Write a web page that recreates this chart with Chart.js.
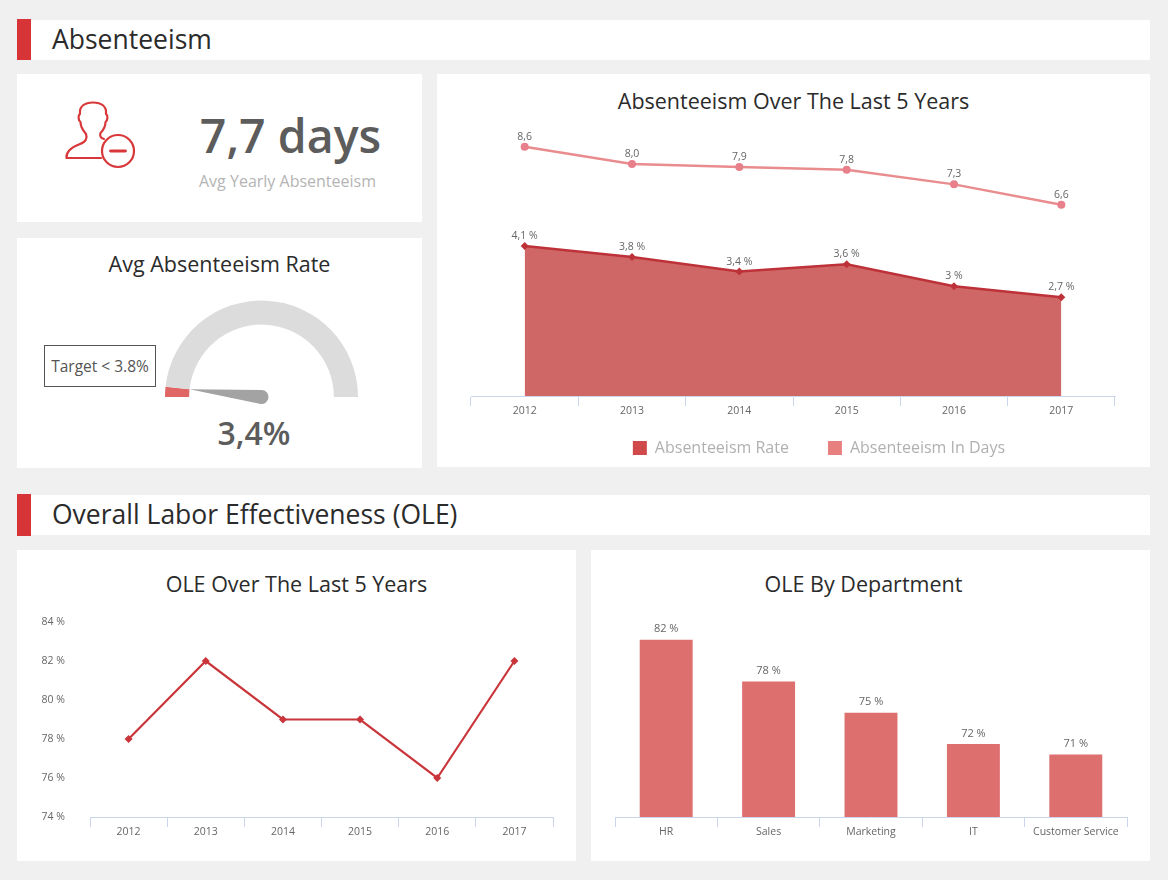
<!DOCTYPE html>
<html><head><meta charset="utf-8">
<script src="https://cdn.jsdelivr.net/npm/chart.js@4"></script>
<style>
html,body{margin:0;padding:0;width:1168px;height:880px;overflow:hidden;background:#f0f0f0;font-family:"Open Sans",sans-serif}
.a{position:absolute}
.card,.bar{position:absolute;background:#fff}
.red{position:absolute;background:#d63436}
.h{position:absolute;left:52px;font-size:26.500px;line-height:40px;color:#2b2b2b;white-space:nowrap}
.t{position:absolute;text-align:center;font-size:21.500px;line-height:26px;color:#2b2b2b;white-space:nowrap}
canvas{position:absolute;display:block}
</style></head><body>
<div class="bar" style="left:30px;top:20px;width:1120px;height:40px"></div>
<div class="red" style="left:17px;top:19px;width:14px;height:41px"></div>
<div class="h" style="top:19px">Absenteeism</div>
<div class="bar" style="left:30px;top:495px;width:1120px;height:40px"></div>
<div class="red" style="left:17px;top:494px;width:14px;height:42px"></div>
<div class="h" style="top:494px">Overall Labor Effectiveness (OLE)</div>

<div class="card" style="left:17px;top:74px;width:405px;height:148px"></div>
<div class="card" style="left:17px;top:238px;width:405px;height:230px"></div>
<div class="card" style="left:437px;top:74px;width:713px;height:393px"></div>
<div class="card" style="left:17px;top:550px;width:559px;height:311px"></div>
<div class="card" style="left:591px;top:550px;width:559px;height:311px"></div>

<svg class="a" style="left:0;top:0" width="1168" height="240" fill="none" stroke="#d8383a" stroke-width="2.2" stroke-linejoin="round" stroke-linecap="round">
<path d="M101 158 H66.500 C66 151 72 147 80 144 C86 142 87.500 138 86 134 C82.500 130 80.500 126 80.500 122 C78 120 78 115 80 114 C79 106 85 102.500 93 102.500 C101 102.500 107 106 106 114 C108 115 108 120 105.500 122 C105.500 126 103.500 130 100.500 133 C99.500 136 100.500 138 104 139"/>
<circle cx="118" cy="151" r="16"/>
<path d="M110.500 151 H125.500" stroke-width="2.800"/>
</svg>
<div class="a" style="left:150px;width:281px;top:104px;text-align:center;font-size:46.500px;line-height:62px;font-weight:600;color:#5c5c5c;white-space:nowrap">7,7 days</div>
<div class="a" style="left:150px;width:275px;top:171px;text-align:center;font-size:16px;line-height:20px;color:#b4b4b4;white-space:nowrap">Avg Yearly Absenteeism</div>

<div class="t" style="left:17px;width:405px;top:251px">Avg Absenteeism Rate</div>
<div class="a" style="left:44px;top:345px;width:110px;height:40px;border:1px solid #555;background:#fff;text-align:center;font-size:15.500px;line-height:40px;color:#555;white-space:nowrap">Target &lt; 3.8%</div>
<canvas id="gauge" style="left:161px;top:296px" width="201" height="111"></canvas>
<div class="a" style="left:154px;width:200px;top:411px;text-align:center;font-size:32px;line-height:44px;font-weight:600;color:#5c5c5c">3,4%</div>

<div class="t" style="left:437px;width:713px;top:88px">Absenteeism Over The Last 5 Years</div>
<canvas id="main" style="left:467px;top:110px" width="704" height="356"></canvas>

<div class="t" style="left:17px;width:559px;top:571px">OLE Over The Last 5 Years</div>
<canvas id="ole" style="left:17px;top:600px" width="559" height="260"></canvas>

<div class="t" style="left:591px;width:545px;top:571px">OLE By Department</div>
<canvas id="dept" style="left:591px;top:600px" width="559" height="260"></canvas>

<script>
const years = ['2012','2013','2014','2015','2016','2017'];
const absenceRate = [4.1,3.8,3.4,3.6,3.0,2.7];
const absenceDays = [8.6,8.0,7.9,7.8,7.3,6.6];
const oleYears = [78,82,79,79,76,82];
const departments = ['HR','Sales','Marketing','IT','Customer Service'];
const oleDept = [82,78,75,72,71];
const gaugeValue = [3.4];
const gaugeRest = [96.6];
const oleTicks = [74,76,78,80,82,84];

const FONT = '"Open Sans"';
Chart.defaults.font.family = FONT;
Chart.defaults.animation = false;
Chart.defaults.responsive = false;
Chart.defaults.plugins.tooltip.enabled = false;

const AXIS = '#ccd6eb', TICK = '#666666';
const comma = v => String(v).replace('.', ',');

const valueLabels = {
  id:'valueLabels',
  afterDatasetsDraw(chart){
    const ctx = chart.ctx;
    chart.data.datasets.forEach((ds,i)=>{
      if(!ds.labelText) return;
      chart.getDatasetMeta(i).data.forEach((el,j)=>{
        ctx.save();
        ctx.font = (ds.labelSize||10.5)+'px '+FONT;
        ctx.fillStyle = '#666666';
        ctx.textAlign='center'; ctx.textBaseline='middle';
        ctx.fillText(ds.labelText(ds.data[j]), el.x, el.y-(ds.labelGap||10));
        ctx.restore();
      });
    });
  }
};

function xAxis(h){
  return {
    offset:true,
    grid:{offset:true,drawOnChartArea:false,drawTicks:true,tickLength:10,color:AXIS,lineWidth:1},
    border:{color:AXIS,width:1},
    ticks:{color:TICK,font:{size:10.5},padding:-1,autoSkip:false,maxRotation:0},
    afterFit(s){s.height=h;}
  };
}

/* the x axis of the main chart reserves little height so the legend can sit close;
   its box is re-extended after layout so the tick labels are not clipped */
const extendAxisBox = {id:'extendAxisBox',afterLayout(chart){chart.scales.x.bottom = chart.scales.x.top+30;}};

new Chart(document.getElementById('main'),{
  type:'line',
  data:{labels:years,datasets:[
    {label:'Absenteeism Rate',data:absenceRate,yAxisID:'yRate',borderColor:'#bd3238',borderWidth:2.5,
     backgroundColor:'#cf6767',fill:'origin',pointStyle:'rectRot',pointRadius:4,pointBackgroundColor:'#bd3238',pointBorderWidth:0,tension:0,
     legendColor:'#d04a4c',labelText:v=>comma(v)+' %'},
    {label:'Absenteeism In Days',data:absenceDays,yAxisID:'yDays',borderColor:'#e98c8e',borderWidth:2.5,
     backgroundColor:'#e98c8e',fill:false,pointStyle:'circle',pointRadius:4,pointBackgroundColor:'#e8808c',pointBorderWidth:0,tension:0,
     legendColor:'#e88080',labelText:v=>v.toFixed(1).replace('.',',')}
  ]},
  options:{
    layout:{padding:{top:10}},
    plugins:{
      legend:{position:'bottom',labels:{
        boxWidth:14,boxHeight:14,padding:39,color:'#b0b0b0',font:{size:16},
        generateLabels(c){return c.data.datasets.map((d,i)=>({text:d.label,fillStyle:d.legendColor,strokeStyle:d.legendColor,lineWidth:0,datasetIndex:i,fontColor:'#b0b0b0'}));}
      }}
    },
    scales:{
      x:xAxis(5),
      yRate:{display:false,position:'left',min:0,max:7.54,afterFit(s){s.width=3;}},
      yDays:{display:false,position:'right',min:0,max:9.52,afterFit(s){s.width=56;}}
    }
  },
  plugins:[valueLabels,extendAxisBox]
});

const needle = {
  id:'needle',
  afterDatasetsDraw(chart){
    const arc = chart.getDatasetMeta(0).data[0];
    const ctx = chart.ctx, r = 7;
    const a = arc.endAngle, tipR = arc.innerRadius;
    const tx = arc.x+Math.cos(a)*tipR, ty = arc.y+Math.sin(a)*tipR;
    ctx.save();
    ctx.fillStyle='#a3a3a3';
    ctx.beginPath();
    ctx.moveTo(tx,ty);
    ctx.arc(arc.x,arc.y,r,a+Math.PI/2,a+Math.PI*1.5,false);
    ctx.closePath();
    ctx.fill();
    ctx.restore();
  }
};
new Chart(document.getElementById('gauge'),{
  type:'doughnut',
  data:{labels:['Absenteeism Rate','Remainder'],datasets:[{data:[gaugeValue[0],gaugeRest[0]],backgroundColor:['#e06666','#dcdcdc'],borderWidth:0}]},
  options:{rotation:-90,circumference:180,cutout:'75%',
    layout:{padding:{left:4,right:4,top:4.5,bottom:10}},
    plugins:{legend:{display:false}}},
  plugins:[needle]
});

new Chart(document.getElementById('ole'),{
  type:'line',
  data:{labels:years,datasets:[{label:'OLE',data:oleYears,borderColor:'#c9353a',borderWidth:2.2,fill:false,
    pointStyle:'rectRot',pointRadius:4,pointBackgroundColor:'#c9353a',pointBorderWidth:0,tension:0}]},
  options:{
    layout:{padding:{left:0,right:23,top:22,bottom:0}},
    plugins:{legend:{display:false}},
    scales:{
      x:xAxis(43),
      y:{min:74,max:84,afterBuildTicks(s){s.ticks=oleTicks.map(v=>({value:v}));},
        grid:{display:true,drawOnChartArea:false,drawTicks:true,tickLength:22,color:'rgba(0,0,0,0)'},border:{display:false},
        ticks:{color:TICK,font:{size:10.5},padding:3,callback:v=>v+' %'},
        afterFit(s){s.width=73;}}
    }
  }
});

new Chart(document.getElementById('dept'),{
  type:'bar',
  data:{labels:departments,datasets:[{label:'OLE',data:oleDept,backgroundColor:'#de6f6f',borderWidth:0,
    categoryPercentage:1,barPercentage:0.517,labelText:v=>v+' %',labelSize:11,labelGap:10.5}]},
  options:{
    layout:{padding:{left:24,right:23,top:19,bottom:0}},
    plugins:{legend:{display:false}},
    scales:{
      x:xAxis(43),
      y:{display:false,min:65,max:84}
    }
  },
  plugins:[valueLabels]
});
</script>
</body></html>
